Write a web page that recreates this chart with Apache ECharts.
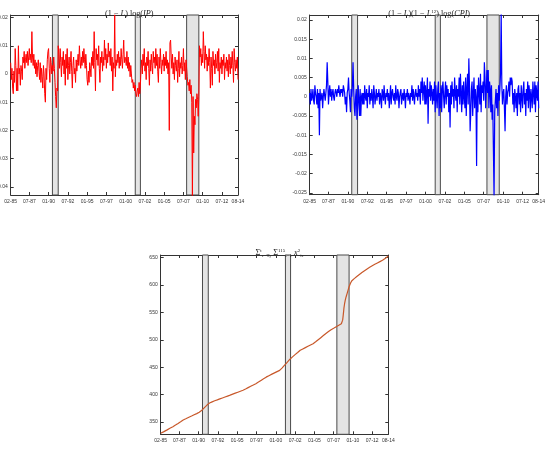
<!DOCTYPE html>
<html>
<head>
<meta charset="utf-8">
<script src="https://cdn.jsdelivr.net/npm/echarts@6/dist/echarts.min.js"></script>
<style>
html, body { margin: 0; padding: 0; background: #fff; }
#chart { width: 552px; height: 462px; }
</style>
</head>
<body>
<div id="chart"></div>
<script>
// monthly dates 02-85 .. 08-14 (355 months)
const months = [];
for (let k = 0; k < 355; k++) {
  const t = 1985 * 12 + 1 + k;
  const yy = Math.floor(t / 12), mm = t % 12 + 1;
  months.push(String(mm).padStart(2, '0') + '-' + String(yy % 100).padStart(2, '0'));
}

const tickLabels = ['02-85', '07-87', '01-90', '07-92', '01-95', '07-97', '01-00', '07-02', '01-05', '07-07', '01-10', '07-12', '08-14'];

// recession bands (start, end)
const recessions = [['07-90', '04-91'], ['04-01', '12-01'], ['12-07', '07-09']];

// (1-L)log(IP), in thousandths, one row per year
const ipGrowth = [
  4, -2, 2, -5, -7, 1, -3, 9, 3, -6, 2,
  -6, 10, 0, 2, -4, 3, 1, -2, 6, 4, 8, 2,
  5, 7, 4, 8, 3, 6, 9, 5, 7, 4, 15, 6,
  3, 7, 2, 5, 0, 4, -1, 3, 5, 1, -2, 4,
  -3, 2, -1, -5, 3, 0, -7, -10, 2, -2, 5, 8,
  9, 2, -3, 6, 4, 0, 3, 1, 6, 2, -3, -8,
  -12, -5, -6, 10, 7, 2, 9, 4, -1, 6, 3, 8,
  0, 5, -4, 7, 2, 9, -2, 3, 6, 0, 4, 8,
  1, -5, 3, 6, 0, 2, -3, 5, 1, 4, 7, 3,
  10, 5, 2, 6, 3, 8, 4, 9, 5, 2, 7, 3,
  -2, -4, 1, -3, 4, 2, -1, 6, 3, 8, 2, 15,
  4, -6, 9, 5, 7, 3, 10, 2, -3, 6, 4, 8,
  1, 6, 3, 12, 5, 9, 2, 7, 4, 11, 6, 8,
  3, 9, 1, 6, -6, 4, 2, 21, -1, 5, 3, 7,
  4, 8, 2, 6, 3, 9, 5, 2, 7, 12, 4, 6,
  5, 3, 8, 2, 6, 1, 4, -1, 3, 0, -3, -2,
  -5, -3, -6, -4, -7, -8, -6, -5, -8, -3, -7, -4,
  2, 5, 0, 7, 3, 9, 1, 4, -2, 6, 3, 8,
  2, -4, 5, 1, 7, 3, 0, 8, 4, 6, 2, 9,
  3, 7, 1, -3, 6, 2, 9, 4, 0, 5, 3, 7,
  1, 6, 3, 8, 2, 5, 0, 4, -20, 11, 12, 6,
  2, 7, 0, 4, -2, 6, 3, 1, 5, -3, 2, 8,
  -1, 4, 2, 6, 0, 3, 9, 1, 4, -2, 5, 2,
  -1, -4, -3, -6, -2, -7, -4, -10, -44, -8, -28, -15,
  -18, -9, -12, -7, -9, -15, -8, 10, 6, 9, 3, 7,
  4, 15, 8, 2, 10, 5, 7, 1, 6, 3, 9, 4,
  -5, 6, 2, -4, 8, 3, 5, 0, 7, 2, 4, 8,
  1, 9, -3, 4, 2, 6, 0, 5, 3, 7, -2, 4,
  2, 6, 1, 5, -1, 7, 3, 0, 6, 2, 8, 3,
  -3, 9, 4, 1, 5, 2, 6, -2
];

// (1-L)(1-L^12)log(CPI), in thousandths
const cpiGrowth = [
  1, -2, 2, -1, 0, 2, -1, -2, 3, 1, 0,
  -2, 2, -3, 1, -10, 2, -1, 0, 1, -3, 0, 2,
  2, -1, 1, 3, 9, 4, -2, 1, 3, 0, 2, -1,
  1, 2, 0, -1, 1, 2, 1, 0, 2, 1, 3, 1,
  0, 2, 1, 2, 0, 3, 2, 1, -2, 0, -4, 1,
  2, 5, 1, -1, -4, 2, 0, 3, 9, 2, -3, -5,
  0, 2, -6, -3, 3, -1, -5, 2, -5, 0, 1, -2,
  1, -2, 3, 0, -1, 2, -3, 1, 0, 3, -2, 1,
  -1, 2, 0, -3, 3, 1, -2, 0, 2, -1, 1, 0,
  2, -2, 1, 0, -3, 2, 1, -1, 3, 0, -2, 1,
  0, 2, -1, 1, -3, 0, 3, -2, 1, 2, 0, -1,
  1, -2, 3, 0, -1, 2, 1, -3, 0, 1, 2, -2,
  0, 1, -1, 2, 0, -3, 1, 0, 2, -1, 1, 0,
  -2, 1, 0, 3, -1, 2, 0, -2, 1, 2, 0, 1,
  -1, 3, 0, 2, -2, 4, 1, 5, -1, 2, 4, -2,
  3, -2, 1, 5, -7, 2, 0, 4, -1, 3, 1, -2,
  2, -1, 4, -4, 3, 0, -3, 2, 4, -5, 1, -3,
  3, -4, 2, 4, 0, -3, 1, 4, -2, 3, 0, 2,
  -4, 1, -8, 3, -2, 4, 0, 2, -3, 5, 1, -1,
  3, -4, 2, 0, 5, -2, 6, 1, -4, 3, -2, 4,
  0, -3, 5, -5, 2, 6, -2, 10, 3, -9, -4, 2,
  4, -5, 1, 5, -3, 2, 0, -18, 3, -4, 5, 1,
  -2, 6, -4, 3, 1, 4, -1, 9, 5, -3, 2, 7,
  1, 7, -3, 4, 2, -4, 3, -6, -2, -14, -26, -4,
  -4, 2, -3, 1, -5, 3, -1, 2, 6, 22, 3, -2,
  1, 2, -3, -9, 0, 3, -2, 1, 2, 4, 0, 5,
  3, 5, 4, -2, 1, -4, 2, 0, -3, 1, -5, 2,
  3, -2, 1, -4, 3, 0, -3, 2, 4, -2, 1, -5,
  2, -1, 4, -3, 3, 1, -4, 2, 0, -3, 4, 1,
  -2, 4, -4, 3, 1, -1, 4, -3
];

// cumulative sum of squared factors
const cumSq = [
  329.4, 330.0, 330.3, 331.1, 331.6, 332.4, 332.8, 333.5, 334.3, 334.7, 335.6, 336.0, 336.9, 337.5, 338.0, 338.9, 339.3, 340.1, 340.8, 341.4,
  341.9, 342.8, 343.4, 344.3, 344.9, 345.8, 346.4, 347.3, 348.0, 348.7, 349.5, 350.4, 351.2, 352.0, 352.9, 353.6,
  354.1, 354.7, 355.2, 355.8, 356.4, 356.9, 357.5, 358.1, 358.6, 359.2, 359.8, 360.3, 360.9, 361.5, 362.0, 362.6, 363.2, 363.7, 364.3, 364.8, 365.3, 365.9, 366.4, 367.0,
  367.8, 368.7, 369.7, 370.6, 371.5,
  372.7, 373.9, 375.0, 376.2, 377.3, 378.5, 379.7, 380.9, 382.2, 383.5,
  384.2, 384.8, 385.3, 385.8, 386.3, 386.8, 387.3, 387.8, 388.3, 388.8, 389.2, 389.6, 390.0,
  390.4, 390.9, 391.3, 391.7, 392.2, 392.6, 393.0, 393.5, 393.9, 394.3, 394.7, 395.2, 395.6, 396.0, 396.4, 396.9, 397.3, 397.7, 398.2, 398.6, 399.0,
  399.4, 399.9, 400.3, 400.8, 401.2, 401.7, 402.1, 402.6, 403.0, 403.5, 403.9, 404.4, 404.8, 405.3, 405.7, 406.2, 406.6, 407.1, 407.5, 408.0, 408.4,
  409.0, 409.6, 410.2, 410.8, 411.4, 412.0, 412.7, 413.3, 413.9, 414.5, 415.1, 415.7, 416.3, 416.9, 417.5, 418.1, 418.8, 419.4, 420.0, 420.6,
  421.4, 422.1, 422.9, 423.6, 424.4, 425.2, 425.9, 426.7, 427.4, 428.2, 428.9, 429.7, 430.4, 431.2, 431.9, 432.7,
  433.3, 433.9, 434.4, 435.0, 435.6, 436.2, 436.8, 437.4, 437.9, 438.5, 439.1, 439.7, 440.3, 440.8, 441.4, 442.0, 442.6, 443.2, 443.7, 444.3, 444.9,
  446.2, 447.5, 448.8, 450.1, 451.5, 452.8, 454.1, 455.4, 456.7, 458.0, 459.4, 460.7, 462.0, 463.3, 464.7, 466.0,
  467.0, 468.0, 469.0, 470.0, 471.1, 472.1, 473.1, 474.1, 475.0, 476.0, 477.0, 478.0, 479.0, 480.0, 481.0,
  481.6, 482.2, 482.8, 483.4, 484.0, 484.6, 485.2, 485.8, 486.4, 487.0, 487.6, 488.2, 488.8, 489.4, 490.0, 490.6, 491.2, 491.8, 492.4, 493.0, 493.6,
  494.5, 495.5, 496.4, 497.4, 498.3, 499.3, 500.2, 501.2, 502.1, 503.1, 504.0, 505.0, 505.9, 506.9, 507.8, 508.8,
  509.7, 510.6, 511.5, 512.4, 513.4, 514.3, 515.2, 516.1, 517.0, 517.9,
  518.6, 519.2, 519.9, 520.6, 521.2, 521.9, 522.6, 523.2, 523.9, 524.6, 525.3, 525.9, 526.6, 527.3, 527.9, 528.6, 529.3, 530.0,
  536.0, 546.0, 558.0, 566.0, 572.0, 577.0, 581.0, 585.0, 589.0, 593.0, 597.0, 600.0, 603.0, 605.5, 607.5, 609.0,
  610.0, 611.0, 611.9, 612.9, 613.8, 614.7, 615.7, 616.6, 617.5, 618.4, 619.3, 620.2,
  621.1, 622.0, 622.9, 623.7, 624.6, 625.4, 626.3, 627.1, 627.9, 628.7, 629.5, 630.3,
  631.0, 631.8, 632.5, 633.2, 633.9, 634.6, 635.3, 636.0, 636.7, 637.3, 638.0, 638.6,
  639.3, 639.9, 640.5, 641.1, 641.7, 642.3, 642.9, 643.5, 644.1, 644.7, 645.3, 645.9,
  646.7, 647.5, 648.4, 649.3, 650.2, 651.1, 652.1, 653.0
];

const ipTicks = [-40, -30, -20, -10, 0, 10, 20];
const cpiTicks = [-25, -20, -15, -10, -5, 0, 5, 10, 15, 20];
const cumTicks = [350, 400, 450, 500, 550, 600, 650];

const axisColor = '#333';
const labelFont = { fontSize: 5, color: '#333', fontFamily: 'Liberation Sans' };
const showTick = (i, v) => tickLabels.includes(v);

const grids = [
  { left: 10.7, top: 15, width: 227.3, height: 180, outerBoundsMode: 'none' },
  { left: 309.7, top: 15, width: 229, height: 179.7, outerBoundsMode: 'none' },
  { left: 160.7, top: 255, width: 227.6, height: 179.3, outerBoundsMode: 'none' }
];

const xAxes = [], yAxes = [];
const yConf = [
  { min: -42.9, max: 20.9, ticks: ipTicks, fmt: v => String(+(v / 1000).toFixed(3)) },
  { min: -25.5, max: 21.3, ticks: cpiTicks, fmt: v => String(+(v / 1000).toFixed(3)) },
  { min: 327.5, max: 655, ticks: cumTicks, fmt: v => String(v) }
];

grids.forEach((g, gi) => {
  ['bottom', 'top'].forEach(pos => {
    xAxes.push({
      type: 'category', gridIndex: gi, position: pos, data: months, boundaryGap: false,
      axisLine: { show: true, onZero: false, lineStyle: { color: axisColor, width: 1 } },
      axisTick: { show: true, inside: true, length: 3, interval: showTick, lineStyle: { color: axisColor } },
      axisLabel: { show: pos === 'bottom', interval: showTick, margin: 4, ...labelFont },
      splitLine: { show: false }
    });
  });
  const c = yConf[gi];
  ['left', 'right'].forEach(pos => {
    yAxes.push({
      type: 'value', gridIndex: gi, position: pos, min: c.min, max: c.max,
      axisLine: { show: true, onZero: false, lineStyle: { color: axisColor, width: 1 } },
      axisTick: { show: true, inside: true, length: 3, customValues: c.ticks, lineStyle: { color: axisColor } },
      axisLabel: { show: pos === 'left', customValues: c.ticks, formatter: c.fmt, margin: 3, ...labelFont },
      splitLine: { show: false }
    });
  });
});

const bandSeries = gi => ({
  type: 'line', xAxisIndex: gi * 2, yAxisIndex: gi * 2, data: [], z: 1, silent: true,
  markArea: {
    silent: true,
    itemStyle: { color: '#e4e4e4', borderColor: '#4a4a4a', borderWidth: 1 },
    data: recessions.map(r => [{ xAxis: r[0] }, { xAxis: r[1] }])
  }
});

const lineSeries = (gi, data, color, width) => ({
  type: 'line', xAxisIndex: gi * 2, yAxisIndex: gi * 2, data: data, z: 3,
  showSymbol: false, lineStyle: { color: color, width: width }
});

const serif = 'Liberation Serif';
const rich = {
  i: { fontFamily: serif, fontSize: 8.2, fontStyle: 'italic', color: '#222' },
  b: { fontFamily: serif, fontSize: 8.2, color: '#222' },
  sup: { fontFamily: serif, fontSize: 5, color: '#222', verticalAlign: 'top' },
  sub: { fontFamily: serif, fontSize: 5, color: '#222', verticalAlign: 'bottom' }
};
const titleStyle = { fontFamily: serif, fontSize: 8.2, fontWeight: 'normal', color: '#222', lineHeight: 10, rich: rich };

const chart = echarts.init(document.getElementById('chart'));
chart.setOption({
  animation: false,
  backgroundColor: '#fff',
  title: [
    { text: '(1 − {i|L}) log({i|IP})', left: 124.3, top: 4, textAlign: 'center', textStyle: titleStyle },
    { text: '(1 − {i|L})(1 − {i|L}{sup|12}) log({i|CPI})', left: 424.2, top: 4, textAlign: 'center', textStyle: titleStyle },
    { text: '{b|Σ}{sup|t}{sub|τ=T₀} {b|Σ}{sup|115}{sub|i=1} {i|x}{sup|2}{sub|iτ}', left: 274.5, top: 243, textAlign: 'center', textStyle: titleStyle }
  ],
  grid: grids,
  xAxis: xAxes,
  yAxis: yAxes,
  series: [
    bandSeries(0), bandSeries(1), bandSeries(2),
    lineSeries(0, ipGrowth, '#ff0000', 1),
    lineSeries(1, cpiGrowth, '#0000ff', 1.2),
    lineSeries(2, cumSq, '#c8582a', 1.2)
  ]
});
</script>
</body>
</html>
